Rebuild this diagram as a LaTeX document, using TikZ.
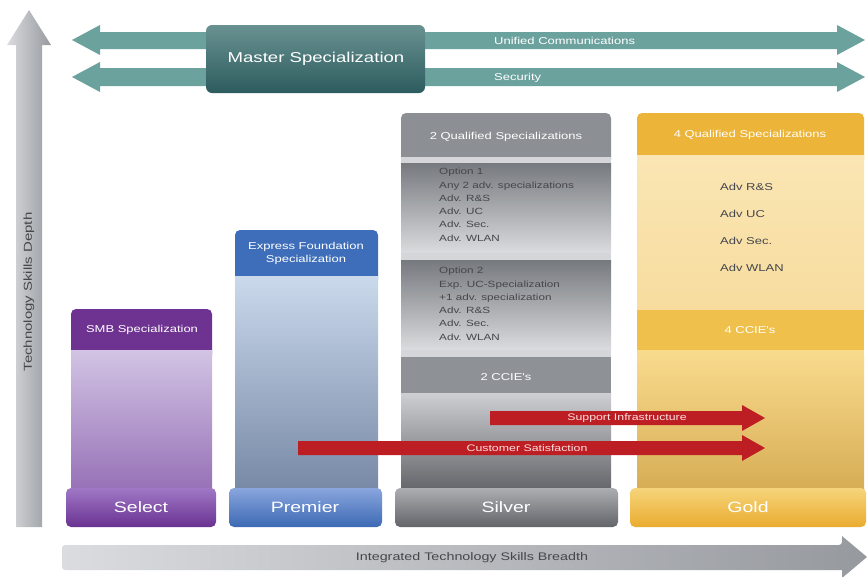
\documentclass[tikz,border=0pt]{standalone}
\usepackage{fontspec}
\setmainfont{Liberation Sans}
\newfontfamily\wide[FakeStretch=1.3]{Liberation Sans}
\definecolor{teal1}{RGB}{108,162,158}
\definecolor{mastT}{RGB}{105,145,145}
\definecolor{mastB}{RGB}{45,92,94}
\definecolor{greyL}{RGB}{218,220,223}
\definecolor{greyR}{RGB}{150,153,158}
\definecolor{purH}{RGB}{110,50,145}
\definecolor{purT}{RGB}{210,196,228}
\definecolor{purB}{RGB}{150,112,182}
\definecolor{purTabT}{RGB}{160,120,198}
\definecolor{purTabB}{RGB}{105,50,145}
\definecolor{bluH}{RGB}{62,110,185}
\definecolor{bluT}{RGB}{203,217,236}
\definecolor{bluB}{RGB}{118,136,165}
\definecolor{bluTabT}{RGB}{138,166,222}
\definecolor{bluTabB}{RGB}{60,105,180}
\definecolor{silH}{RGB}{140,143,148}
\definecolor{silStrip}{RGB}{212,214,217}
\definecolor{silOptT}{RGB}{118,121,126}
\definecolor{silOptB}{RGB}{218,220,222}
\definecolor{silBand}{RGB}{142,145,150}
\definecolor{silLowT}{RGB}{205,207,210}
\definecolor{silLowB}{RGB}{98,99,104}
\definecolor{silTabT}{RGB}{172,174,178}
\definecolor{silTabB}{RGB}{98,100,105}
\definecolor{golH}{RGB}{236,180,56}
\definecolor{golT}{RGB}{250,230,180}
\definecolor{golM}{RGB}{247,220,158}
\definecolor{golBand}{RGB}{240,192,76}
\definecolor{golStrip}{RGB}{248,218,140}
\definecolor{golLowT}{RGB}{248,218,140}
\definecolor{golLowB}{RGB}{214,172,84}
\definecolor{golTabT}{RGB}{246,212,122}
\definecolor{golTabB}{RGB}{234,172,48}
\definecolor{redA}{RGB}{188,30,36}
\definecolor{txtD}{RGB}{70,70,76}
\definecolor{txtR}{RGB}{255,222,222}
\tikzset{
  lbl/.style={inner sep=0pt, font=\wide\fontsize{10}{13}\selectfont},
  wlbl/.style={lbl, text=white},
  dlbl/.style={lbl, text=txtD},
  tablbl/.style={inner sep=0pt, text=white, font=\wide\fontsize{15}{18}\selectfont},
  redlbl/.style={inner sep=0pt, text=txtR, font=\wide\fontsize{9.5}{12}\selectfont},
  optlbl/.style={inner sep=0pt, text=txtD, align=left, anchor=north west, font=\wide\fontsize{9}{13.3}\selectfont},
  tabbox/.style={rounded corners=5pt},
  hdrbox/.style={rounded corners=5pt},
}
\begin{document}
\begin{tikzpicture}[x=1pt,y=-1pt]
\useasboundingbox (0,0) rectangle (868,576);
% vertical arrow
\path[left color=greyL, right color=greyR] (16,527) -- (16,45) -- (7,45) -- (29,10) -- (51,45) -- (42,45) -- (42,527) -- cycle;
\node[dlbl, rotate=90, font=\wide\fontsize{11.5}{13}\selectfont] (depth) at (29,292) {Technology Skills Depth};
% teal double arrows
\path[fill=teal1] (72,40) -- (100,25) -- (100,32) -- (837,32) -- (837,25) -- (865,40) -- (837,55) -- (837,49) -- (100,49) -- (100,55) -- cycle;
\path[fill=teal1] (72,77) -- (100,62) -- (100,68) -- (837,68) -- (837,62) -- (865,77) -- (837,92) -- (837,86) -- (100,86) -- (100,92) -- cycle;
\node[wlbl, anchor=west] (uc) at (494,41) {Unified Communications};
\node[wlbl, anchor=west] (sec) at (494,78) {Security};
% master box
\path[top color=mastT, bottom color=mastB, rounded corners=6pt] (206,25) rectangle (425,93);
\node[inner sep=0pt, text=white, font=\wide\fontsize{14.3}{16}\selectfont] (master) at (316,59) {Master Specialization};
% bottom arrow
\path[left color=greyL, right color=greyR, rounded corners=3pt] (62,545) -- (842,545) [sharp corners] -- (842,536) -- (867,557) -- (842,578) -- (842,570) [rounded corners=3pt] -- (62,570) -- cycle;
\node[dlbl, font=\wide\fontsize{11}{13}\selectfont] (breadth) at (472,558) {Integrated Technology Skills Breadth};

% ---- Select column
\path[fill=purH, hdrbox] (71,309) rectangle (212,360);
\path[top color=purT, bottom color=purB] (71,350) rectangle (212,492);
\path[top color=purTabT, bottom color=purTabB, tabbox] (66,488) rectangle (216,527);
\node[wlbl] (smb) at (142,330) {SMB Specialization};
\node[tablbl] (select) at (141,507) {Select};

% ---- Premier column
\path[fill=bluH, hdrbox] (235,230) rectangle (378,285);
\path[top color=bluT, bottom color=bluB] (235,276) rectangle (378,492);
\path[top color=bluTabT, bottom color=bluTabB, tabbox] (229,488) rectangle (382,527);
\node[wlbl, align=center] (efs) at (306,253) {Express Foundation\\Specialization};
\node[tablbl] (premier) at (305,507) {Premier};

% ---- Silver column
\path[fill=silH, hdrbox] (401,113) rectangle (611,165);
\path[fill=silStrip] (401,157) rectangle (611,163);
\path[top color=silOptT, bottom color=silOptB] (401,163) rectangle (611,253);
\path[fill=silStrip] (401,253) rectangle (611,260);
\path[top color=silOptT, bottom color=silOptB] (401,260) rectangle (611,350);
\path[fill=silStrip] (401,350) rectangle (611,357);
\path[fill=silBand] (401,357) rectangle (611,393);
\path[top color=silLowT, bottom color=silLowB] (401,393) rectangle (611,492);
\path[top color=silTabT, bottom color=silTabB, tabbox] (395,488) rectangle (618,527);
\node[wlbl] (s2q) at (506,137) {2 Qualified Specializations};
\node[optlbl] (opt1) at (439,168) {Option 1\\Any 2 adv. specializations\\Adv. R\&S\\Adv. UC\\Adv. Sec.\\Adv. WLAN};
\node[optlbl] (opt2) at (439,267) {Option 2\\Exp. UC-Specialization\\+1 adv. specialization\\Adv. R\&S\\Adv. Sec.\\Adv. WLAN};
\node[wlbl] (s2c) at (506,377) {2 CCIE's};
\node[tablbl] (silver) at (506,507) {Silver};

% ---- Gold column
\path[fill=golH, hdrbox] (637,113) rectangle (864,165);
\path[top color=golT, bottom color=golM] (637,155) rectangle (864,310);
\path[fill=golBand] (637,310) rectangle (864,350);
\path[fill=golStrip] (637,350) rectangle (864,355);
\path[top color=golLowT, bottom color=golLowB] (637,355) rectangle (864,492);
\path[top color=golTabT, bottom color=golTabB, tabbox] (630,488) rectangle (866,527);
\node[wlbl] (g4q) at (750,135) {4 Qualified Specializations};
\node[dlbl, anchor=west] (grs) at (720,187) {Adv R\&S};
\node[dlbl, anchor=west] (guc) at (720,214) {Adv UC};
\node[dlbl, anchor=west] (gsec) at (720,241) {Adv Sec.};
\node[dlbl, anchor=west] (gwl) at (720,268) {Adv WLAN};
\node[wlbl] (g4c) at (750,330) {4 CCIE's};
\node[tablbl] (gold) at (748,507) {Gold};

% ---- red arrows
\path[fill=redA] (490,411) -- (742,411) -- (742,405) -- (765,418) -- (742,431) -- (742,425) -- (490,425) -- cycle;
\node[redlbl] (support) at (627,418) {Support Infrastructure};
\path[fill=redA] (298,441) -- (742,441) -- (742,435) -- (765,448) -- (742,461) -- (742,455) -- (298,455) -- cycle;
\node[redlbl] (cust) at (527,448) {Customer Satisfaction};
\end{tikzpicture}
\end{document}
